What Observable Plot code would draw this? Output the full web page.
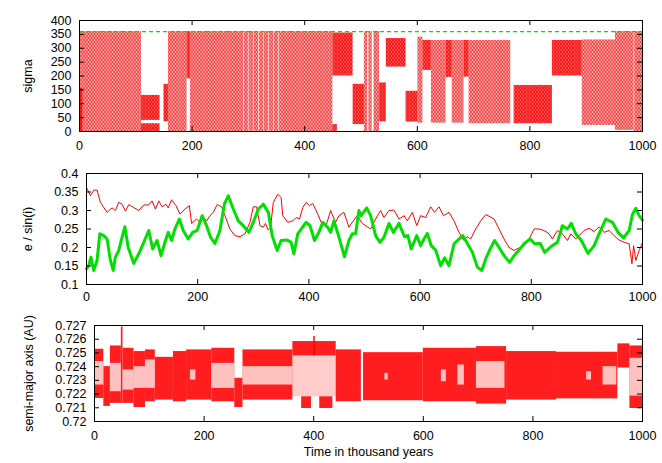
<!DOCTYPE html>
<html><head><meta charset="utf-8">
<script src="https://cdn.jsdelivr.net/npm/d3@7"></script>
<script src="https://cdn.jsdelivr.net/npm/@observablehq/plot@0.6"></script>
<style>
body{margin:0;background:#fff;}
#chart{position:relative;width:662px;height:463px;background:#fff;}
#chart > div{position:absolute;left:0;}
#defs{position:absolute;width:0;height:0;overflow:hidden;}
</style></head><body>
<svg id="defs" width="0" height="0" aria-hidden="true">
  <defs>
    <pattern id="circTex" width="3" height="4" patternUnits="userSpaceOnUse">
      <rect width="3" height="4" fill="#ff0000" fill-opacity="0.3"/>
      <path d="M0,0L3,4M3,0L0,4" stroke="#ff0000" stroke-width="0.8" stroke-opacity="0.8"/>
    </pattern>
    <pattern id="libTex" width="3" height="4" patternUnits="userSpaceOnUse">
      <rect width="3" height="4" fill="#ff0000" fill-opacity="0.62"/>
      <path d="M0,0L3,4M3,0L0,4" stroke="#ff0000" stroke-width="0.9"/>
    </pattern>
    <pattern id="aTex" width="2" height="3" patternUnits="userSpaceOnUse">
      <rect width="2" height="3" fill="#ff0000" fill-opacity="0.66"/>
      <path d="M0,0L2,3M2,0L0,3" stroke="#ff0000" stroke-width="0.8"/>
    </pattern>
  </defs>
</svg>
<div id="chart"></div>
<script>
// ---------- common ticks ----------
const xTicks = [0, 200, 400, 600, 800, 1000];
const sigmaTicks = [0, 50, 100, 150, 200, 250, 300, 350, 400];
const eiTicks = [0.1, 0.15, 0.2, 0.25, 0.3, 0.35, 0.4];
const aTicks = [0.72, 0.721, 0.722, 0.723, 0.724, 0.725, 0.726, 0.727];

// ---------- panel 1: sigma (blocks of the oscillation envelope) ----------
const sigT0 = [0, 0, 110, 110, 150, 158, 191, 197, 293, 301, 310, 319, 328, 337, 346, 355, 450, 450, 486, 506, 514, 523, 533, 545, 580, 601, 610, 625, 651, 662, 683, 692, 772, 840, 893, 952, 986];
const sigT1 = [110, 6, 143, 143, 158, 191, 197, 292, 300, 309, 318, 327, 336, 345, 354, 450, 486, 458, 506, 512, 520, 533, 545, 580, 601, 610, 625, 651, 662, 683, 692, 766, 840, 893, 952, 985, 1000];
const sigLo = [0, 0, 40, 0, 35, 0, 190, 0, 0, 0, 0, 0, 0, 0, 0, 0, 200, 0, 25, 0, 0, 0, 35, 232, 34, 30, 220, 30, 195, 30, 196, 28, 28, 200, 22, 4, 0];
const sigHi = [360, 155, 130, 28, 170, 360, 360, 360, 360, 360, 360, 360, 360, 360, 360, 360, 355, 25, 170, 360, 360, 360, 175, 335, 145, 340, 328, 328, 328, 328, 328, 328, 166, 328, 330, 360, 360];
const sigState = ["circ", "lib", "lib", "lib", "lib", "circ", "lib", "circ", "circ", "circ", "circ", "circ", "circ", "circ", "circ", "circ", "lib", "lib", "lib", "circ", "circ", "circ", "lib", "lib", "lib", "circ", "lib", "circ", "lib", "circ", "lib", "circ", "lib", "lib", "circ", "circ", "circ"];
const sigmaLimit = [360];

// ---------- panel 2: e and sin(i) ----------
const eT = [0, 7, 13, 19, 25, 37, 46, 52, 58, 64, 70, 76, 85, 94, 103, 112, 118, 124, 130, 136, 143, 147, 153, 161, 168, 177, 185, 189, 198, 204, 210, 216, 222, 228, 235, 243, 249, 258, 267, 276, 285, 294, 300, 306, 312, 318, 322, 327, 331, 336, 344, 350, 353, 362, 371, 377, 383, 389, 395, 401, 407, 416, 422, 431, 439, 448, 454, 463, 472, 478, 487, 496, 505, 511, 520, 529, 535, 544, 553, 562, 571, 577, 586, 594, 601, 610, 619, 626, 634, 642, 652, 661, 670, 678, 685, 691, 700, 709, 718, 726, 733, 742, 751, 760, 769, 778, 787, 796, 805, 814, 823, 832, 838, 847, 856, 865, 871, 880, 886, 895, 904, 913, 922, 931, 940, 949, 958, 967, 976, 981, 984, 988, 994, 1000];
const eV = [0.362, 0.34, 0.355, 0.355, 0.322, 0.295, 0.307, 0.30, 0.322, 0.317, 0.298, 0.316, 0.308, 0.30, 0.315, 0.315, 0.326, 0.304, 0.326, 0.31, 0.317, 0.307, 0.329, 0.313, 0.29, 0.304, 0.313, 0.265, 0.277, 0.268, 0.281, 0.272, 0.286, 0.295, 0.316, 0.31, 0.286, 0.25, 0.232, 0.229, 0.237, 0.268, 0.31, 0.31, 0.259, 0.255, 0.265, 0.247, 0.253, 0.322, 0.344, 0.335, 0.286, 0.268, 0.272, 0.281, 0.277, 0.308, 0.322, 0.313, 0.319, 0.29, 0.268, 0.259, 0.30, 0.268, 0.286, 0.295, 0.255, 0.268, 0.286, 0.265, 0.256, 0.25, 0.277, 0.30, 0.281, 0.30, 0.301, 0.277, 0.286, 0.272, 0.295, 0.259, 0.286, 0.281, 0.31, 0.295, 0.31, 0.286, 0.295, 0.272, 0.241, 0.22, 0.229, 0.223, 0.25, 0.272, 0.289, 0.283, 0.277, 0.25, 0.223, 0.20, 0.192, 0.199, 0.205, 0.223, 0.25, 0.25, 0.246, 0.237, 0.223, 0.246, 0.237, 0.219, 0.237, 0.223, 0.232, 0.246, 0.252, 0.243, 0.256, 0.241, 0.246, 0.232, 0.22, 0.214, 0.21, 0.156, 0.205, 0.165, 0.192, 0.214];
const iT = [0, 4, 8, 13, 19, 24, 31, 37, 43, 48, 52, 58, 64, 69, 75, 85, 94, 103, 112, 119, 127, 134, 141, 147, 153, 159, 167, 174, 183, 191, 199, 208, 216, 223, 231, 240, 248, 255, 264, 273, 282, 292, 300, 309, 318, 327, 334, 343, 350, 361, 368, 373, 380, 388, 395, 402, 410, 418, 425, 434, 439, 445, 454, 464, 472, 478, 484, 490, 494, 504, 511, 520, 528, 535, 544, 552, 562, 572, 578, 584, 594, 601, 607, 613, 620, 628, 637, 644, 652, 661, 670, 677, 685, 694, 703, 711, 718, 726, 734, 742, 751, 761, 769, 778, 787, 798, 806, 816, 824, 835, 847, 856, 865, 872, 880, 890, 902, 913, 923, 934, 946, 956, 966, 976, 982, 988, 994, 1000];
const iV = [0.142, 0.151, 0.174, 0.138, 0.165, 0.237, 0.232, 0.223, 0.165, 0.138, 0.174, 0.192, 0.228, 0.256, 0.20, 0.157, 0.183, 0.214, 0.246, 0.196, 0.219, 0.178, 0.214, 0.241, 0.219, 0.25, 0.277, 0.246, 0.223, 0.241, 0.246, 0.286, 0.259, 0.228, 0.211, 0.246, 0.317, 0.34, 0.304, 0.272, 0.259, 0.241, 0.268, 0.304, 0.317, 0.295, 0.232, 0.192, 0.219, 0.22, 0.214, 0.183, 0.237, 0.254, 0.268, 0.259, 0.219, 0.241, 0.268, 0.254, 0.241, 0.272, 0.228, 0.175, 0.219, 0.237, 0.237, 0.30, 0.286, 0.307, 0.286, 0.232, 0.214, 0.228, 0.265, 0.241, 0.265, 0.229, 0.232, 0.196, 0.232, 0.205, 0.223, 0.238, 0.205, 0.193, 0.151, 0.172, 0.151, 0.21, 0.223, 0.232, 0.211, 0.187, 0.147, 0.138, 0.169, 0.196, 0.219, 0.20, 0.178, 0.16, 0.178, 0.193, 0.21, 0.223, 0.21, 0.211, 0.187, 0.202, 0.214, 0.259, 0.25, 0.265, 0.237, 0.219, 0.184, 0.205, 0.241, 0.277, 0.268, 0.241, 0.226, 0.246, 0.29, 0.306, 0.286, 0.274];

// ---------- panel 3: semi-major axis envelope ----------
const aT0 = [0, 17, 29, 49, 52, 72, 93, 111, 144, 168, 214, 256, 271, 362, 400, 378, 411, 441, 491, 600, 697, 752, 843, 955, 977];
const aT1 = [17, 29, 49, 52, 72, 93, 111, 144, 168, 214, 256, 271, 362, 441, 403, 396, 435, 487, 600, 697, 752, 843, 955, 977, 1000];
const aLo = [0.72168, 0.7211, 0.72132, 0.7213, 0.72132, 0.72102, 0.72144, 0.72156, 0.72144, 0.72156, 0.72144, 0.72102, 0.72156, 0.72478, 0.72478, 0.72095, 0.72095, 0.72144, 0.72151, 0.72144, 0.72127, 0.72156, 0.72165, 0.7239, 0.72095];
const aHi = [0.72527, 0.7240, 0.72551, 0.7269, 0.72534, 0.7251, 0.72522, 0.72468, 0.7251, 0.72522, 0.72534, 0.72315, 0.72522, 0.72583, 0.7262, 0.7218, 0.7218, 0.72522, 0.72502, 0.72534, 0.72546, 0.7251, 0.72505, 0.72566, 0.72551];
// sparse (weakly populated) zones inside the envelope
const holeT0 = [0, 29, 52, 72, 93, 175, 214, 271, 530, 633, 663, 697, 898, 928, 977];
const holeT1 = [17, 49, 72, 93, 111, 185, 256, 362, 536, 642, 675, 749, 907, 953, 1000];
const holeLo = [0.72266, 0.72217, 0.72229, 0.72241, 0.72241, 0.72302, 0.72241, 0.72266, 0.72302, 0.7229, 0.72266, 0.72241, 0.72302, 0.72266, 0.72185];
const holeHi = [0.72437, 0.72424, 0.72376, 0.724, 0.72449, 0.72376, 0.72424, 0.724, 0.72351, 0.72376, 0.72412, 0.72437, 0.72363, 0.724, 0.72461];
const sparseT0 = [362];
const sparseT1 = [441];
const sparseLo = [0.7218];
const sparseHi = [0.72478];

// ---------- build tables ----------
const sigmaRows = sigT0.map((t, i) => ({t0: t, t1: sigT1[i], lo: sigLo[i], hi: sigHi[i], state: sigState[i]}));
const eRows = eT.map((t, i) => ({t, v: eV[i]}));
const iRows = iT.map((t, i) => ({t, v: iV[i]}));
const aRows = aT0.map((t, i) => ({t0: t, t1: aT1[i], lo: aLo[i], hi: aHi[i]}));
const holeRows = holeT0.map((t, i) => ({t0: t, t1: holeT1[i], lo: holeLo[i], hi: holeHi[i]}));
const sparseRows = sparseT0.map((t, i) => ({t0: t, t1: sparseT1[i], lo: sparseLo[i], hi: sparseHi[i]}));

const FONT = "'Liberation Sans', Arial, Helvetica, sans-serif";
const FS = 12.5;
const W = 662;
const RED = "#ff0000";
const GREEN = "#00e000";

function decor({ml, mr, innerH, yTicks, xPad, yLabel, yLabelX}) {
  const innerW = W - ml - mr;
  return [
    Plot.tickX(xTicks, {x: d => d, stroke: "black", insetTop: innerH - 5}),
    Plot.tickX(xTicks, {x: d => d, stroke: "black", insetBottom: innerH - 5}),
    Plot.tickY(yTicks, {y: d => d, stroke: "black", insetRight: innerW - 5}),
    Plot.tickY(yTicks, {y: d => d, stroke: "black", insetLeft: innerW - 5}),
    Plot.axisX(xTicks, {anchor: "bottom", tickSize: 0, tickPadding: xPad, tickFormat: d => `${d}`, label: null, fontSize: FS}),
    Plot.axisY(yTicks, {anchor: "left", tickSize: 0, tickPadding: 8, tickFormat: d => `${d}`, label: null, fontSize: FS}),
    Plot.text([yLabel], {text: d => d, frameAnchor: "left", textAnchor: "middle", dx: yLabelX - ml, rotate: -90, fontSize: FS}),
    Plot.frame({stroke: "black", strokeWidth: 1})
  ];
}

function place(svg, top) {
  const div = document.createElement("div");
  div.style.top = top + "px";
  div.appendChild(svg);
  document.getElementById("chart").appendChild(div);
}

const style = {fontFamily: FONT, fontSize: FS + "px", background: "transparent", overflow: "visible", color: "black"};

// Panel 1
place(Plot.plot({
  width: W, height: 155,
  marginLeft: 79, marginRight: 20, marginTop: 20, marginBottom: 24,
  x: {domain: [0, 1000]},
  y: {domain: [0, 400]},
  style,
  marks: [
    Plot.rect(sigmaRows.filter(d => d.state === "circ"), {x1: "t0", x2: "t1", y1: "lo", y2: "hi", fill: "url(#circTex)"}),
    Plot.rect(sigmaRows.filter(d => d.state === "lib"), {x1: "t0", x2: "t1", y1: "lo", y2: "hi", fill: "url(#libTex)"}),
    Plot.ruleY(sigmaLimit, {y: d => d, stroke: "#00dd00", strokeWidth: 1.2, strokeDasharray: "4,3"}),
    ...decor({ml: 79, mr: 20, innerH: 111, yTicks: sigmaTicks, xPad: 10, yLabel: "sigma", yLabelX: 27})
  ]
}), 0);

// Panel 2
place(Plot.plot({
  width: W, height: 150,
  marginLeft: 86, marginRight: 20, marginTop: 18, marginBottom: 21,
  x: {domain: [0, 1000]},
  y: {domain: [0.1, 0.4]},
  style,
  marks: [
    Plot.line(eRows, {x: "t", y: "v", stroke: RED, strokeWidth: 1}),
    Plot.line(iRows, {x: "t", y: "v", stroke: GREEN, strokeWidth: 3, strokeLinejoin: "round"}),
    ...decor({ml: 86, mr: 20, innerH: 111, yTicks: eiTicks, xPad: 8, yLabel: "e / sin(i)", yLabelX: 27})
  ]
}), 155);

// Panel 3
place(Plot.plot({
  width: W, height: 158,
  marginLeft: 94, marginRight: 20, marginTop: 20, marginBottom: 42,
  x: {domain: [0, 1000]},
  y: {domain: [0.72, 0.727]},
  style,
  marks: [
    Plot.rect(sparseRows, {x1: "t0", x2: "t1", y1: "lo", y2: "hi", fill: RED, fillOpacity: 0.2}),
    Plot.rect(aRows, {x1: "t0", x2: "t1", y1: "lo", y2: "hi", fill: "url(#aTex)"}),
    Plot.rect(holeRows, {x1: "t0", x2: "t1", y1: "lo", y2: "hi", fill: "white", fillOpacity: 0.72}),
    Plot.text(["Time in thousand years"], {text: d => d, frameAnchor: "bottom", dy: 34, fontSize: FS}),
    ...decor({ml: 94, mr: 20, innerH: 96, yTicks: aTicks, xPad: 10, yLabel: "semi-major axis (AU)", yLabelX: 28})
  ]
}), 305);
</script></body></html>
